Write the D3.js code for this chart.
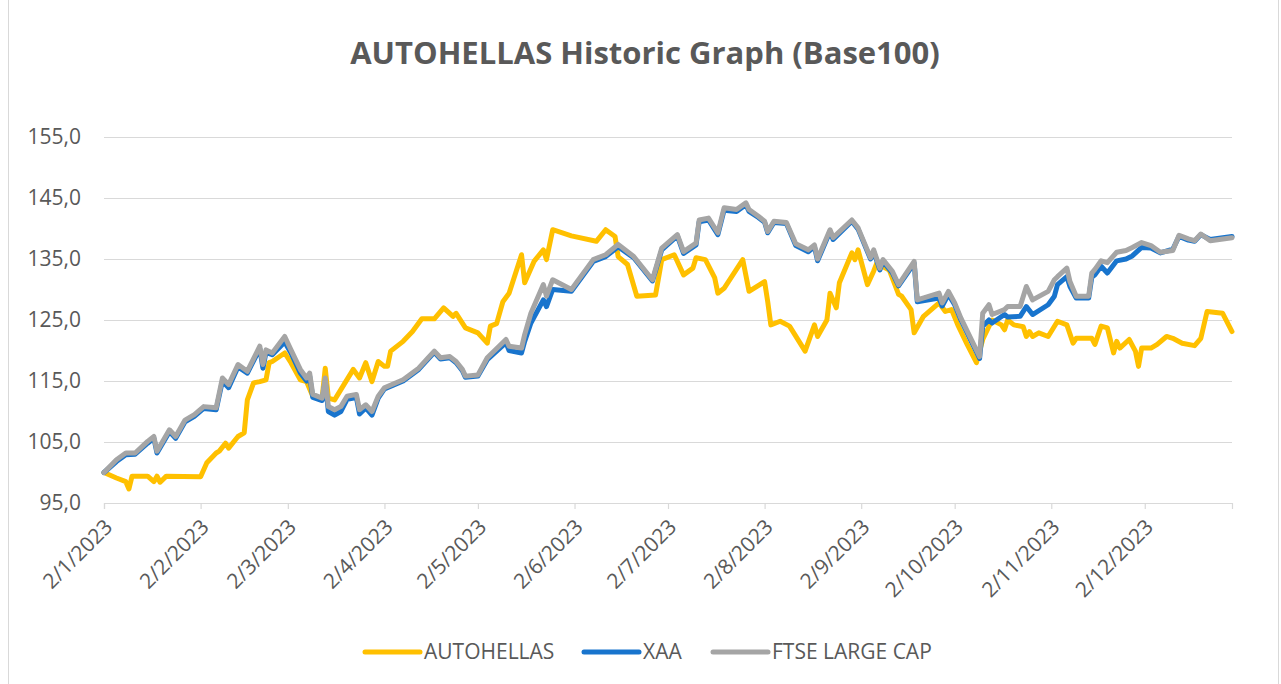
<!DOCTYPE html>
<html>
<head>
<meta charset="utf-8">
<script src="https://cdn.jsdelivr.net/npm/d3@7"></script>
<style>
  body { margin: 0; background: #fff; }
  svg { display: block; font-family: 'Open Sans', sans-serif; }
</style>
</head>
<body>
<div id="chart"></div>
<script>
// FTSE LARGE CAP and XAA share the same sample dates
const indexDates = [
  '2023-01-02','2023-01-06','2023-01-09','2023-01-12','2023-01-16','2023-01-18','2023-01-19','2023-01-23','2023-01-25','2023-01-28','2023-01-31',
  '2023-02-03','2023-02-07','2023-02-09','2023-02-11','2023-02-14','2023-02-17','2023-02-21','2023-02-22','2023-02-23','2023-02-25',
  '2023-03-01','2023-03-03','2023-03-06','2023-03-08','2023-03-09','2023-03-10','2023-03-13','2023-03-14','2023-03-15','2023-03-17','2023-03-19','2023-03-21','2023-03-24','2023-03-25','2023-03-27','2023-03-29','2023-03-31',
  '2023-04-02','2023-04-08','2023-04-13','2023-04-16','2023-04-18','2023-04-20','2023-04-23','2023-04-25','2023-04-27','2023-04-28',
  '2023-05-02','2023-05-05','2023-05-11','2023-05-12','2023-05-16','2023-05-17','2023-05-19','2023-05-23','2023-05-24','2023-05-26',
  '2023-06-01','2023-06-08','2023-06-12','2023-06-16','2023-06-21','2023-06-27','2023-06-30',
  '2023-07-05','2023-07-07','2023-07-11','2023-07-12','2023-07-15','2023-07-18','2023-07-20','2023-07-24','2023-07-27','2023-07-28','2023-07-31',
  '2023-08-02','2023-08-03','2023-08-05','2023-08-09','2023-08-12','2023-08-16','2023-08-18','2023-08-19','2023-08-23','2023-08-24','2023-08-30',
  '2023-09-01','2023-09-05','2023-09-06','2023-09-08','2023-09-09','2023-09-12','2023-09-14','2023-09-19','2023-09-20','2023-09-27','2023-09-28','2023-09-30',
  '2023-10-02','2023-10-04','2023-10-10','2023-10-11','2023-10-13','2023-10-14','2023-10-18','2023-10-19','2023-10-23','2023-10-25','2023-10-27',
  '2023-11-01','2023-11-03','2023-11-04','2023-11-07','2023-11-08','2023-11-10','2023-11-14','2023-11-15','2023-11-16','2023-11-18','2023-11-20','2023-11-23','2023-11-26','2023-11-28',
  '2023-12-01','2023-12-04','2023-12-07','2023-12-11','2023-12-13','2023-12-16','2023-12-18','2023-12-20','2023-12-23','2023-12-30'
];
const ftseValues = [
  100.0,102.1,103.2,103.2,105.1,105.9,103.5,107.0,105.9,108.6,109.5,
  110.8,110.6,115.5,114.4,117.7,116.6,120.7,117.7,120.1,119.6,
  122.3,120.1,116.9,115.5,116.3,112.8,112.2,115.5,110.8,110.3,110.8,112.5,112.8,110.3,111.1,110.0,112.5,
  113.9,115.2,117.1,118.8,119.9,118.8,119.0,118.2,116.9,115.8,
  116.0,118.8,121.8,120.7,120.4,122.6,126.1,130.8,128.9,131.6,
  130.0,134.9,135.7,137.4,135.4,131.6,136.8,
  139.0,136.2,137.6,141.4,141.7,139.3,143.4,143.1,144.2,143.1,142.0,
  141.2,139.5,141.2,141.0,137.5,136.5,137.3,135.0,139.8,138.5,141.4,
  140.1,135.2,136.5,133.5,134.9,133.0,130.8,134.6,128.3,129.4,127.8,129.7,
  127.8,125.3,119.0,126.1,127.5,125.9,126.7,127.2,127.2,130.5,128.3,
  129.7,131.6,132.1,133.5,131.3,128.9,128.9,132.7,133.3,134.7,134.4,136.1,136.4,136.9,
  137.7,137.2,136.1,136.4,138.9,138.3,138.0,139.1,138.0,138.5
];
const xaaValues = [
  100.0,101.8,102.9,103.0,104.8,105.6,103.2,106.7,105.6,108.3,109.2,
  110.5,110.3,115.0,113.9,117.3,116.3,120.3,117.1,119.7,119.3,
  121.4,119.6,116.3,115.0,115.8,112.3,111.8,115.0,110.0,109.4,110.0,112.0,112.3,109.6,110.6,109.4,112.2,
  113.7,115.0,116.9,118.6,119.7,118.6,118.8,118.0,116.7,115.6,
  115.8,118.5,121.3,120.0,119.6,121.5,124.5,128.3,127.2,130.0,
  129.7,134.6,135.4,137.0,135.2,131.4,136.5,
  138.8,135.9,137.3,141.1,141.4,139.0,143.0,142.8,143.9,142.8,141.8,
  141.0,139.3,141.0,140.8,137.2,136.2,137.0,134.7,139.5,138.2,141.2,
  139.9,135.0,136.2,133.2,134.6,132.7,130.6,134.3,128.0,128.6,127.3,129.2,
  127.5,125.0,118.7,124.0,125.0,124.5,125.9,125.5,125.6,127.2,125.9,
  127.5,128.9,130.8,132.1,130.5,128.6,128.6,132.0,132.4,133.8,132.7,134.7,135.0,135.5,
  136.9,136.8,136.0,136.6,138.7,138.1,137.9,139.0,138.2,138.7
];

const autohellasDates = [
  '2023-01-02','2023-01-06','2023-01-09','2023-01-10','2023-01-11','2023-01-16','2023-01-18','2023-01-19','2023-01-20','2023-01-22',
  '2023-02-02','2023-02-04','2023-02-07','2023-02-08','2023-02-10','2023-02-11','2023-02-14','2023-02-16','2023-02-17','2023-02-19','2023-02-21','2023-02-23','2023-02-24','2023-02-25',
  '2023-03-01','2023-03-03','2023-03-06','2023-03-08','2023-03-10','2023-03-13','2023-03-14','2023-03-15','2023-03-17','2023-03-20','2023-03-23','2023-03-25','2023-03-27','2023-03-29','2023-03-31',
  '2023-04-02','2023-04-03','2023-04-04','2023-04-08','2023-04-11','2023-04-14','2023-04-18','2023-04-21','2023-04-24','2023-04-25','2023-04-28',
  '2023-05-02','2023-05-05','2023-05-06','2023-05-08','2023-05-10','2023-05-12','2023-05-16','2023-05-17','2023-05-20','2023-05-23','2023-05-24','2023-05-26',
  '2023-06-01','2023-06-09','2023-06-12','2023-06-15','2023-06-16','2023-06-19','2023-06-22','2023-06-28','2023-06-30',
  '2023-07-04','2023-07-07','2023-07-10','2023-07-11','2023-07-14','2023-07-17','2023-07-18','2023-07-20','2023-07-26','2023-07-28',
  '2023-08-02','2023-08-03','2023-08-04','2023-08-07','2023-08-10','2023-08-15','2023-08-18','2023-08-19','2023-08-22','2023-08-23','2023-08-25','2023-08-26','2023-08-30','2023-08-31',
  '2023-09-01','2023-09-04','2023-09-06','2023-09-07','2023-09-11','2023-09-14','2023-09-15','2023-09-18','2023-09-19','2023-09-22','2023-09-27','2023-09-29',
  '2023-10-01','2023-10-03','2023-10-06','2023-10-09','2023-10-11','2023-10-14','2023-10-17','2023-10-18','2023-10-19','2023-10-21','2023-10-24','2023-10-25','2023-10-26','2023-10-27','2023-10-29',
  '2023-11-01','2023-11-04','2023-11-07','2023-11-09','2023-11-10','2023-11-15','2023-11-16','2023-11-18','2023-11-20','2023-11-22','2023-11-23','2023-11-24','2023-11-27','2023-11-29','2023-11-30',
  '2023-12-01','2023-12-04','2023-12-06','2023-12-09','2023-12-11','2023-12-14','2023-12-18','2023-12-20','2023-12-22','2023-12-27','2023-12-30'
];
const autohellasValues = [
  100.0,99.1,98.5,97.3,99.4,99.4,98.5,99.4,98.4,99.4,
  99.3,101.6,103.2,103.5,104.8,104.0,105.9,106.5,111.9,114.7,114.9,115.2,118.0,118.2,
  119.6,118.0,115.2,114.9,112.5,112.2,117.1,112.2,111.9,114.4,116.9,115.5,118.0,114.9,118.2,
  117.4,117.4,119.9,121.5,123.1,125.2,125.2,127.0,125.6,126.1,123.7,
  122.9,121.2,124.0,124.4,128.0,129.4,135.7,131.1,134.6,136.5,134.9,139.8,
  138.8,137.9,139.8,138.7,135.4,134.1,128.9,129.1,134.9,
  135.7,132.4,133.5,135.2,134.9,131.9,129.4,130.2,134.9,129.7,
  131.3,128.0,124.2,124.8,124.0,119.9,124.2,122.3,125.0,129.4,127.0,131.1,136.0,134.9,
  136.5,130.8,133.0,134.3,133.2,129.2,128.9,126.7,122.9,125.6,127.8,126.4,
  126.7,124.2,121.0,118.0,121.8,125.0,124.2,123.4,125.0,124.2,123.9,122.3,123.1,122.3,122.9,
  122.3,124.8,124.2,121.2,122.0,122.0,121.0,124.0,123.7,119.6,121.5,120.4,121.8,119.9,117.4,
  120.4,120.4,121.0,122.3,122.0,121.2,120.8,122.0,126.4,126.1,123.1
];

const seriesNames = ['AUTOHELLAS', 'XAA', 'FTSE LARGE CAP'];
const seriesColors = ['#FFC000', '#1874CD', '#A5A5A5'];
const yTickValues = [95, 105, 115, 125, 135, 145, 155];
const xTickDates = ['2023-01-02','2023-02-02','2023-03-02','2023-04-02','2023-05-02','2023-06-02',
  '2023-07-02','2023-08-02','2023-09-02','2023-10-02','2023-11-02','2023-12-02'];
const xDomain = ['2023-01-02', '2023-12-30'];

const chartWidth = 1281;
const chartHeight = 684;
const plot = { left: 104, right: 1232, top: 137, bottom: 503 };
const legendX = [365, 584, 713];
const textColor = '#595959';
const gridColor = '#D9D9D9';

const parseDate = d3.utcParse('%Y-%m-%d');

function toPoints(dates, values) {
  return dates.map((d, i) => ({ date: parseDate(d), value: values[i] }));
}

const series = [
  toPoints(autohellasDates, autohellasValues),
  toPoints(indexDates, xaaValues),
  toPoints(indexDates, ftseValues)
];

const svg = d3.select('#chart').append('svg')
    .attr('width', chartWidth)
    .attr('height', chartHeight);

// chart frame
svg.append('rect')
    .attr('x', 8.5)
    .attr('y', -2)
    .attr('width', 1270)
    .attr('height', chartHeight + 4)
    .attr('fill', '#fff')
    .attr('stroke', gridColor);

// Title
svg.append('text')
    .text('AUTOHELLAS Historic Graph (Base100)')
    .attr('x', 645)
    .attr('y', 64)
    .attr('text-anchor', 'middle')
    .style('font-size', '31px')
    .style('font-weight', 'bold')
    .attr('fill', textColor);

const x = d3.scaleUtc(xDomain.map(parseDate), [plot.left, plot.right]);
const y = d3.scaleLinear([95, 155], [plot.bottom, plot.top]);

const commaFormat = d3.formatLocale({ decimal: ',', thousands: '.', grouping: [3], currency: ['', ''] }).format('.1f');

// Y axis with gridlines
const yAxis = svg.append('g')
    .attr('transform', `translate(${plot.left},0)`)
    .call(d3.axisLeft(y).tickValues(yTickValues).tickFormat(commaFormat)
      .tickSize(-(plot.right - plot.left)).tickPadding(23));
yAxis.select('.domain').remove();
yAxis.selectAll('.tick line').attr('stroke', gridColor).attr('stroke-width', 1.2);
yAxis.selectAll('.tick text')
    .attr('fill', textColor)
    .style('font-size', '21px')
    .style('font-family', "'Open Sans', sans-serif");

// X axis
const dateFormat = d3.utcFormat('%-d/%-m/%Y');
const xAxis = svg.append('g')
    .attr('transform', `translate(0,${plot.bottom})`)
    .call(d3.axisBottom(x).tickValues(xTickDates.map(parseDate)).tickFormat(dateFormat).tickSize(6));
xAxis.select('.domain').attr('stroke', gridColor).attr('stroke-width', 1.2);
xAxis.selectAll('.tick line').attr('stroke', gridColor).attr('stroke-width', 1.2);
xAxis.selectAll('.tick text')
    .attr('x', 0)
    .attr('y', 0)
    .attr('dy', '0.35em')
    .attr('text-anchor', 'end')
    .attr('transform', 'translate(4,20) rotate(-45)')
    .attr('fill', textColor)
    .style('font-size', '21px')
    .style('font-family', "'Open Sans', sans-serif");

// Lines
const line = d3.line()
    .x(d => x(d.date))
    .y(d => y(d.value));

svg.append('g')
  .selectAll('path')
  .data(series)
  .join('path')
    .attr('d', line)
    .attr('fill', 'none')
    .attr('stroke', (d, i) => seriesColors[i])
    .attr('stroke-width', 5)
    .attr('stroke-linejoin', 'round')
    .attr('stroke-linecap', 'round');

// Legend
const legend = svg.append('g').attr('transform', 'translate(0,652)');
const items = legend.selectAll('g')
  .data(seriesNames)
  .join('g')
    .attr('transform', (d, i) => `translate(${legendX[i]},0)`);
items.append('line')
    .attr('x1', 0).attr('x2', 55)
    .attr('stroke', (d, i) => seriesColors[i])
    .attr('stroke-width', 5)
    .attr('stroke-linecap', 'round');
items.append('text')
    .text(d => d)
    .attr('x', 59)
    .attr('dy', '0.35em')
    .attr('fill', textColor)
    .style('font-size', '21px');
</script>
</body>
</html>
